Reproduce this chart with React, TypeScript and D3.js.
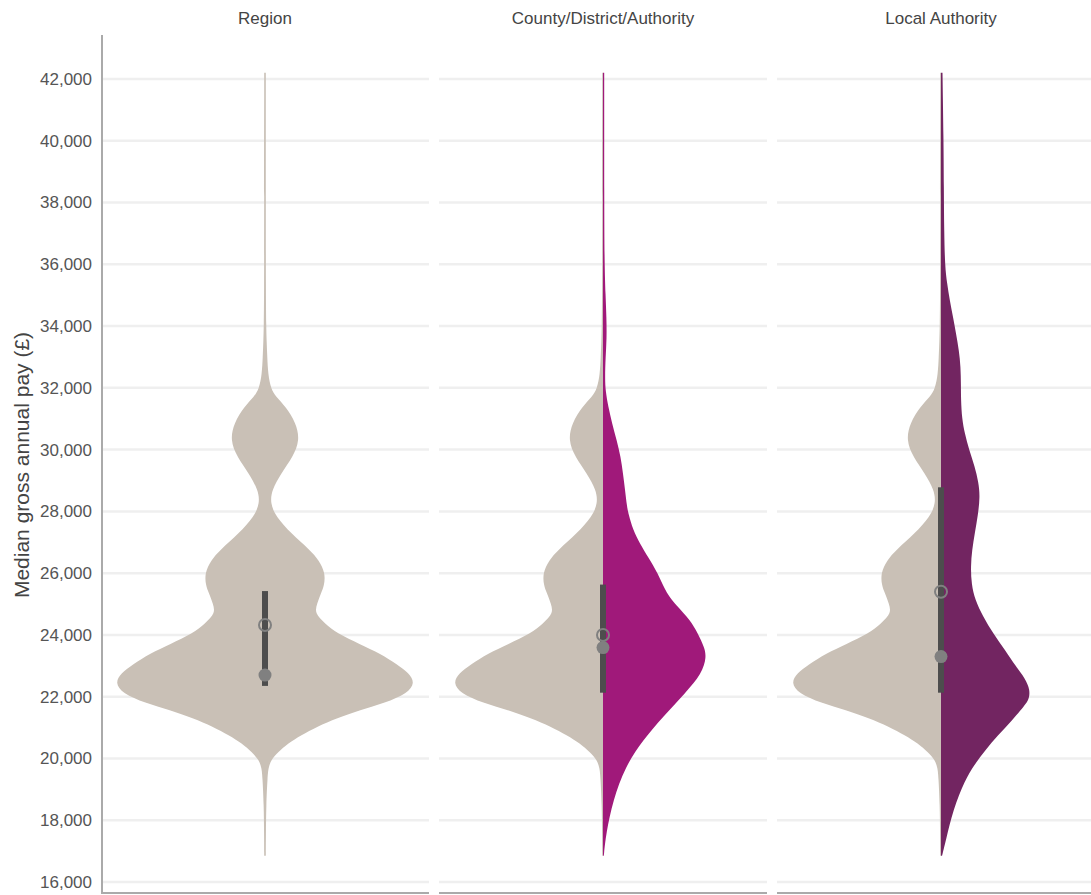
import React from "react";
import * as d3 from "d3";

const FACETS = ["Region", "County/District/Authority", "Local Authority"];
const Y_TICKS = [16000, 18000, 20000, 22000, 24000, 26000, 28000, 30000, 32000, 34000, 36000, 38000, 40000, 42000];

// Region kernel density (relative, max = 1)
const REGION_PAY = [42200, 38000, 35000, 34000, 33500, 33000, 32430, 31985, 31710, 31390, 30860, 30310, 29770, 29230, 28690, 28260, 27830, 27290, 26750, 26420, 26000, 25600, 25340, 25020, 24700, 24370, 24050, 23700, 23400, 23050, 22760, 22450, 22110, 21800, 21570, 21300, 21030, 20750, 20490, 20200, 19950, 19700, 19410, 18500, 17500, 16850];
const REGION_DENSITY = [0.005, 0.005, 0.006, 0.008, 0.011, 0.015, 0.021, 0.039, 0.072, 0.139, 0.207, 0.232, 0.187, 0.107, 0.045, 0.035, 0.073, 0.173, 0.3, 0.36, 0.402, 0.395, 0.373, 0.347, 0.33, 0.4, 0.48, 0.633, 0.767, 0.88, 0.96, 1.0, 0.95, 0.8, 0.633, 0.48, 0.347, 0.24, 0.153, 0.087, 0.04, 0.023, 0.017, 0.008, 0.006, 0.005];

// County/District/Authority kernel density
const COUNTY_PAY = [42200, 38000, 36000, 35000, 34300, 33600, 33000, 32300, 31900, 31390, 30860, 30310, 29770, 29230, 28700, 28150, 27940, 27400, 26950, 26530, 25990, 25450, 25120, 24910, 24480, 24050, 23600, 23290, 22750, 22110, 21350, 20600, 19730, 18650, 17570, 16850];
const COUNTY_DENSITY = [0.008, 0.008, 0.01, 0.017, 0.023, 0.025, 0.017, 0.013, 0.017, 0.035, 0.06, 0.091, 0.118, 0.133, 0.147, 0.16, 0.169, 0.2, 0.247, 0.3, 0.367, 0.413, 0.46, 0.5, 0.58, 0.633, 0.675, 0.69, 0.66, 0.547, 0.4, 0.267, 0.147, 0.067, 0.02, 0.005];

// Local Authority kernel density
const LA_PAY = [42200, 40000, 38500, 37000, 35920, 35400, 34840, 34300, 33760, 33200, 32680, 32100, 31610, 31000, 30530, 30000, 29450, 28950, 28480, 27900, 27290, 26750, 26210, 25650, 25130, 24600, 24050, 23510, 22970, 22600, 22210, 21900, 21730, 21230, 20750, 20260, 19780, 19300, 18330, 17360, 16850];
const LA_DENSITY = [0.01, 0.017, 0.019, 0.021, 0.027, 0.04, 0.058, 0.08, 0.1, 0.12, 0.131, 0.133, 0.133, 0.14, 0.158, 0.187, 0.225, 0.25, 0.26, 0.247, 0.225, 0.207, 0.198, 0.203, 0.227, 0.28, 0.347, 0.427, 0.5, 0.56, 0.595, 0.585, 0.56, 0.473, 0.38, 0.293, 0.22, 0.16, 0.08, 0.033, 0.007];

const BOX_LOW = [22350, 22130, 22130];
const BOX_HIGH = [25420, 25630, 28780];
const MEAN = [24320, 24000, 25400];
const MEDIAN = [22700, 23590, 23300];

const BEIGE = "#C9C0B6";
const SIDE_COLORS = [BEIGE, "#A0197A", "#722561"];

const zipPairs = (a: number[], b: number[]) => a.map((v, i) => [v, b[i]] as [number, number]);

export default function App() {
  const W = 1091, H = 895;
  const y = d3.scaleLinear().domain([15644, 43425]).range([893, 35]);
  const band = d3.scaleBand<string>().domain(FACETS).range([101, 1105]).paddingInner(10 / 338).paddingOuter(0);
  const wScale = d3.scaleLinear().domain([0, 1]).range([0, 150]);
  const font = "'Liberation Sans', Arial, sans-serif";

  const region = zipPairs(REGION_PAY, REGION_DENSITY);
  const sides = [region, zipPairs(COUNTY_PAY, COUNTY_DENSITY), zipPairs(LA_PAY, LA_DENSITY)];

  const half = (cx: number, sign: number) =>
    d3.area<[number, number]>()
      .curve(d3.curveBasis)
      .y((d) => y(d[0]))
      .x0(cx)
      .x1((d) => cx + sign * Math.max(0.8, wScale(d[1])));

  return (
    <svg width={W} height={H} style={{ position: "absolute", left: 0, top: 0, background: "#fff" }} fontFamily={font}>
      {FACETS.map((f, i) => {
        const x0 = band(f)!;
        const x1 = x0 + band.bandwidth();
        const cx = (x0 + x1) / 2;
        return (
          <g key={f}>
            {Y_TICKS.map((t) => (
              <line key={t} x1={x0} x2={x1} y1={y(t)} y2={y(t)} stroke="#EFEFEF" strokeWidth={2.5} />
            ))}
            <line x1={x0} x2={x1} y1={893} y2={893} stroke="#AAAAAA" strokeWidth={2} />
            <text x={cx} y={24} textAnchor="middle" fontSize={17} fill="#444">{f}</text>
            <path d={half(cx, -1)(region) || ""} fill={BEIGE} />
            <path d={half(cx, 1)(sides[i]) || ""} fill={SIDE_COLORS[i]} />
            <rect x={cx - 3} width={6} y={y(BOX_HIGH[i])} height={y(BOX_LOW[i]) - y(BOX_HIGH[i])} fill="#4D4D4D" />
            <circle cx={cx} cy={y(MEAN[i])} r={6} fill="none" stroke="#808080" strokeWidth={2} />
            <circle cx={cx} cy={y(MEDIAN[i])} r={6.5} fill="#808080" />
          </g>
        );
      })}
      <line x1={102} x2={102} y1={35} y2={894} stroke="#AAAAAA" strokeWidth={2} />
      {Y_TICKS.map((t) => (
        <text key={t} x={92} y={y(t)} dy="0.35em" textAnchor="end" fontSize={17} fill="#555">
          {d3.format(",")(t)}
        </text>
      ))}
      <text transform="translate(29,465) rotate(-90)" textAnchor="middle" fontSize={21} fill="#444">
        Median gross annual pay (£)
      </text>
    </svg>
  );
}
